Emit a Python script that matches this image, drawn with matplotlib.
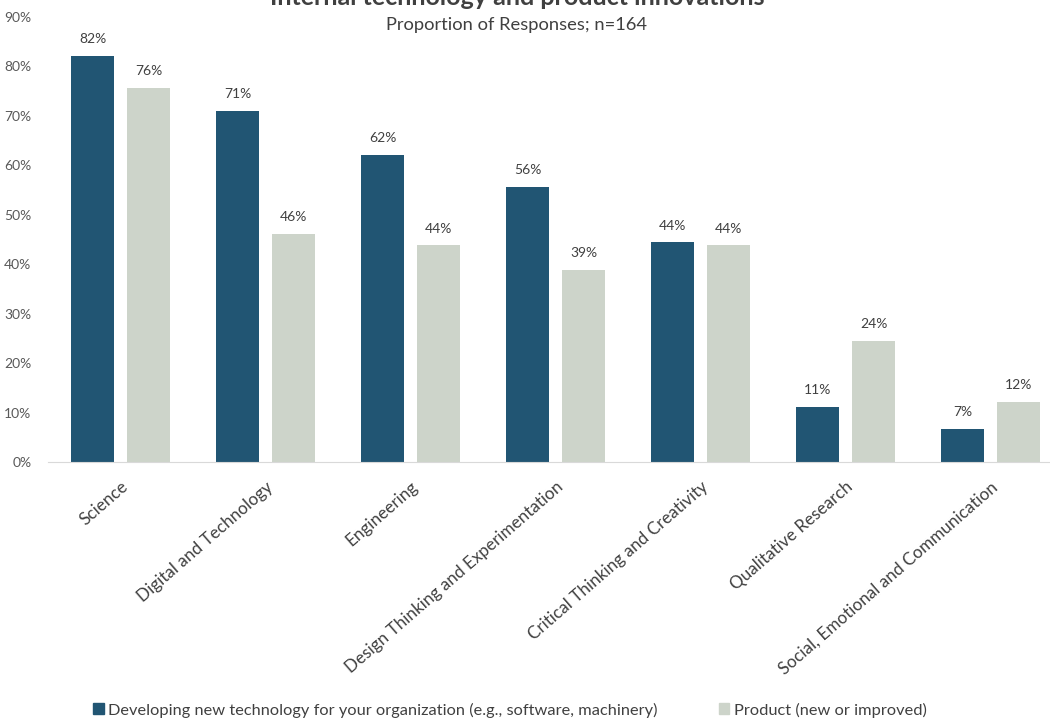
import matplotlib
matplotlib.use("Agg")
import matplotlib.pyplot as plt
import numpy as np
from matplotlib.patches import Patch

plt.rcParams["font.family"] = ["Lato", "DejaVu Sans"]

categories = ["Science", "Digital and Technology", "Engineering",
              "Design Thinking and Experimentation",
              "Critical Thinking and Creativity", "Qualitative Research",
              "Social, Emotional and Communication"]
tech_values = [82.2, 71.0, 62.1, 55.6, 44.4, 11.1, 6.6]
product_values = [75.7, 46.2, 43.8, 38.9, 43.8, 24.4, 12.1]
series_names = ["Developing new technology for your organization (e.g., software, machinery)",
                "Product (new or improved)"]
yticks = [0, 10, 20, 30, 40, 50, 60, 70, 80, 90]

BLUE = "#215573"
GREY = "#CDD4CA"
TEXT = "#404040"

fig = plt.figure(figsize=(10.5, 7.19), dpi=100)
ax = fig.add_axes([48 / 1050, (719 - 462) / 719, 1015 / 1050, 445 / 719])

x = np.arange(len(categories))
w = 0.303
off = 0.193
b1 = ax.bar(x - off, tech_values, w, color=BLUE)
b2 = ax.bar(x + off, product_values, w, color=GREY)

# value labels above each bar
for bars, vals in ((b1, tech_values), (b2, product_values)):
    for rect, v in zip(bars, vals):
        ax.text(rect.get_x() + rect.get_width() / 2, v + 2.2, f"{round(v)}%",
                ha="center", va="bottom", fontsize=10, color=TEXT)

ax.set_xlim(-0.5, len(categories) - 0.5)
ax.set_ylim(0, 90)
ax.set_yticks(yticks)
ax.set_yticklabels([f"{t}%" for t in yticks], fontsize=10, color="#595959")
ax.set_xticks(x)
ax.set_xticklabels(categories, rotation=41, ha="right", rotation_mode="anchor",
                   fontsize=12.3, color=TEXT)
ax.tick_params(axis="both", length=0)
ax.tick_params(axis="y", pad=12)
ax.tick_params(axis="x", pad=12)
for s in ("top", "right", "left"):
    ax.spines[s].set_visible(False)
ax.spines["bottom"].set_color("#D9D9D9")

fig.text(517 / 1050, 1 - 5 / 719, "Internal technology and product innovations",
         ha="center", va="baseline", fontsize=18, fontweight="bold", color=TEXT)
fig.text(517 / 1050, 1 - 25 / 719, "Proportion of Responses; n=164",
         ha="center", va="center", fontsize=13.2, color=TEXT)

handles = [Patch(color=BLUE), Patch(color=GREY)]
fig.legend(handles, series_names, loc="center", bbox_to_anchor=(510 / 1050, 1 - 710 / 719),
           ncol=2, frameon=False, fontsize=11.8, handlelength=0.65, handleheight=0.65,
           handletextpad=0.3, columnspacing=3.7, labelcolor=TEXT)

fig.savefig("out.png", dpi=100)
